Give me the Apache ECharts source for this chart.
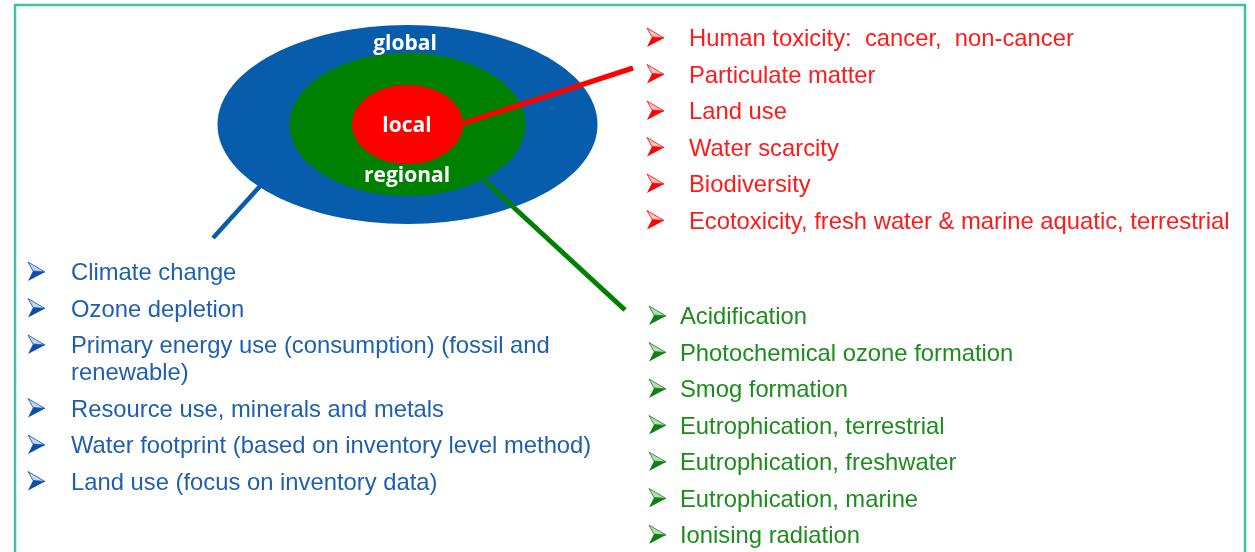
<!DOCTYPE html>
<html><head><meta charset="utf-8">
<script src="https://cdn.jsdelivr.net/npm/echarts@6/dist/echarts.min.js"></script>
<style>html,body{margin:0;padding:0;background:#fff}#c{width:1255px;height:552px}</style>
</head><body><div id="c"></div>
<script>
// Data
const scaleLabels = ['global', 'regional', 'local'];
const localItems = [
  'Human toxicity:  cancer,  non-cancer',
  'Particulate matter',
  'Land use',
  'Water scarcity',
  'Biodiversity',
  'Ecotoxicity, fresh water & marine aquatic, terrestrial'
];
const regionalItems = [
  'Acidification',
  'Photochemical ozone formation',
  'Smog formation',
  'Eutrophication, terrestrial',
  'Eutrophication, freshwater',
  'Eutrophication, marine',
  'Ionising radiation'
];
const globalItems = [
  'Climate change',
  'Ozone depletion',
  'Primary energy use (consumption) (fossil and\nrenewable)',
  'Resource use, minerals and metals',
  'Water footprint (based on inventory level method)',
  'Land use (focus on inventory data)'
];

// Layout / style
const BLUE = '#075cab', GREEN = '#008000', RED = '#ff0000';
const TXT_BLUE = '#1f5fb0', TXT_GREEN = '#1c8c1c', TXT_RED = '#ff1a1a';
const FONT = '"Liberation Sans", Arial, sans-serif';
const FS = 23.8;
const LINE = 36.5;
const cx = 407.5, cy = 124.5;

const g = [];
// frame
g.push({type:'polyline', shape:{points:[[15,552],[15,5],[1245,5],[1245,552]]},
  style:{stroke:'#3cc3a2', lineWidth:2.5, fill:null}});
// ellipses
g.push({type:'ellipse', shape:{cx:cx, cy:cy, rx:190, ry:99.5}, style:{fill:BLUE}});
g.push({type:'ellipse', shape:{cx:cx, cy:cy, rx:118, ry:71.5}, style:{fill:GREEN}});
g.push({type:'ellipse', shape:{cx:cx, cy:cy, rx:55.5, ry:39.5}, style:{fill:RED}});
// connectors
g.push({type:'line', shape:{x1:461, y1:124, x2:633, y2:68}, style:{stroke:RED, lineWidth:5}});
g.push({type:'line', shape:{x1:484, y1:180, x2:625, y2:310}, style:{stroke:GREEN, lineWidth:5}});
g.push({type:'line', shape:{x1:262, y1:184, x2:213, y2:238}, style:{stroke:BLUE, lineWidth:4.5}});
// scale labels
const labelPos = [[405,44.5],[407,176.5],[407,126.5]];
scaleLabels.forEach((t,i)=>{
  g.push({type:'text', x:labelPos[i][0], y:labelPos[i][1],
    style:{text:t, fill:'#fff', font:'bold 21px "Open Sans", "Noto Sans", sans-serif',
      textAlign:'center', textVerticalAlign:'middle'}});
});

function bullet(x, y, dark, light){
  g.push({type:'polygon', shape:{points:[[x,y-10],[x+17,y],[x+5,y-1]]},
    style:{fill:light, stroke:dark, lineWidth:0.8}});
  g.push({type:'polygon', shape:{points:[[x+5,y-1],[x+17,y],[x,y+9]]},
    style:{fill:dark}});
}
function list(items, ax, tx, y0, col, dark, light){
  let y = y0;
  items.forEach(t=>{
    bullet(ax, y, dark, light);
    const lines = t.split('\n');
    lines.forEach((ln,k)=>{
      g.push({type:'text', x:tx, y:y + 1.5 + k*27,
        style:{text:ln, fill:col, font:FS+'px '+FONT, textVerticalAlign:'middle'}});
    });
    y += LINE + (lines.length-1)*27;
  });
}
list(localItems, 647, 689, 38, TXT_RED, '#ff0000', '#ffc4c4');
list(regionalItems, 649, 680, 316, TXT_GREEN, '#138013', '#b8dcb8');
list(globalItems, 28, 71, 272, TXT_BLUE, '#0d4fa8', '#c4d6ee');

const chart = echarts.init(document.getElementById('c'), null, {renderer:'canvas'});
chart.setOption({animation:false, graphic:{elements:g}});
</script></body></html>
